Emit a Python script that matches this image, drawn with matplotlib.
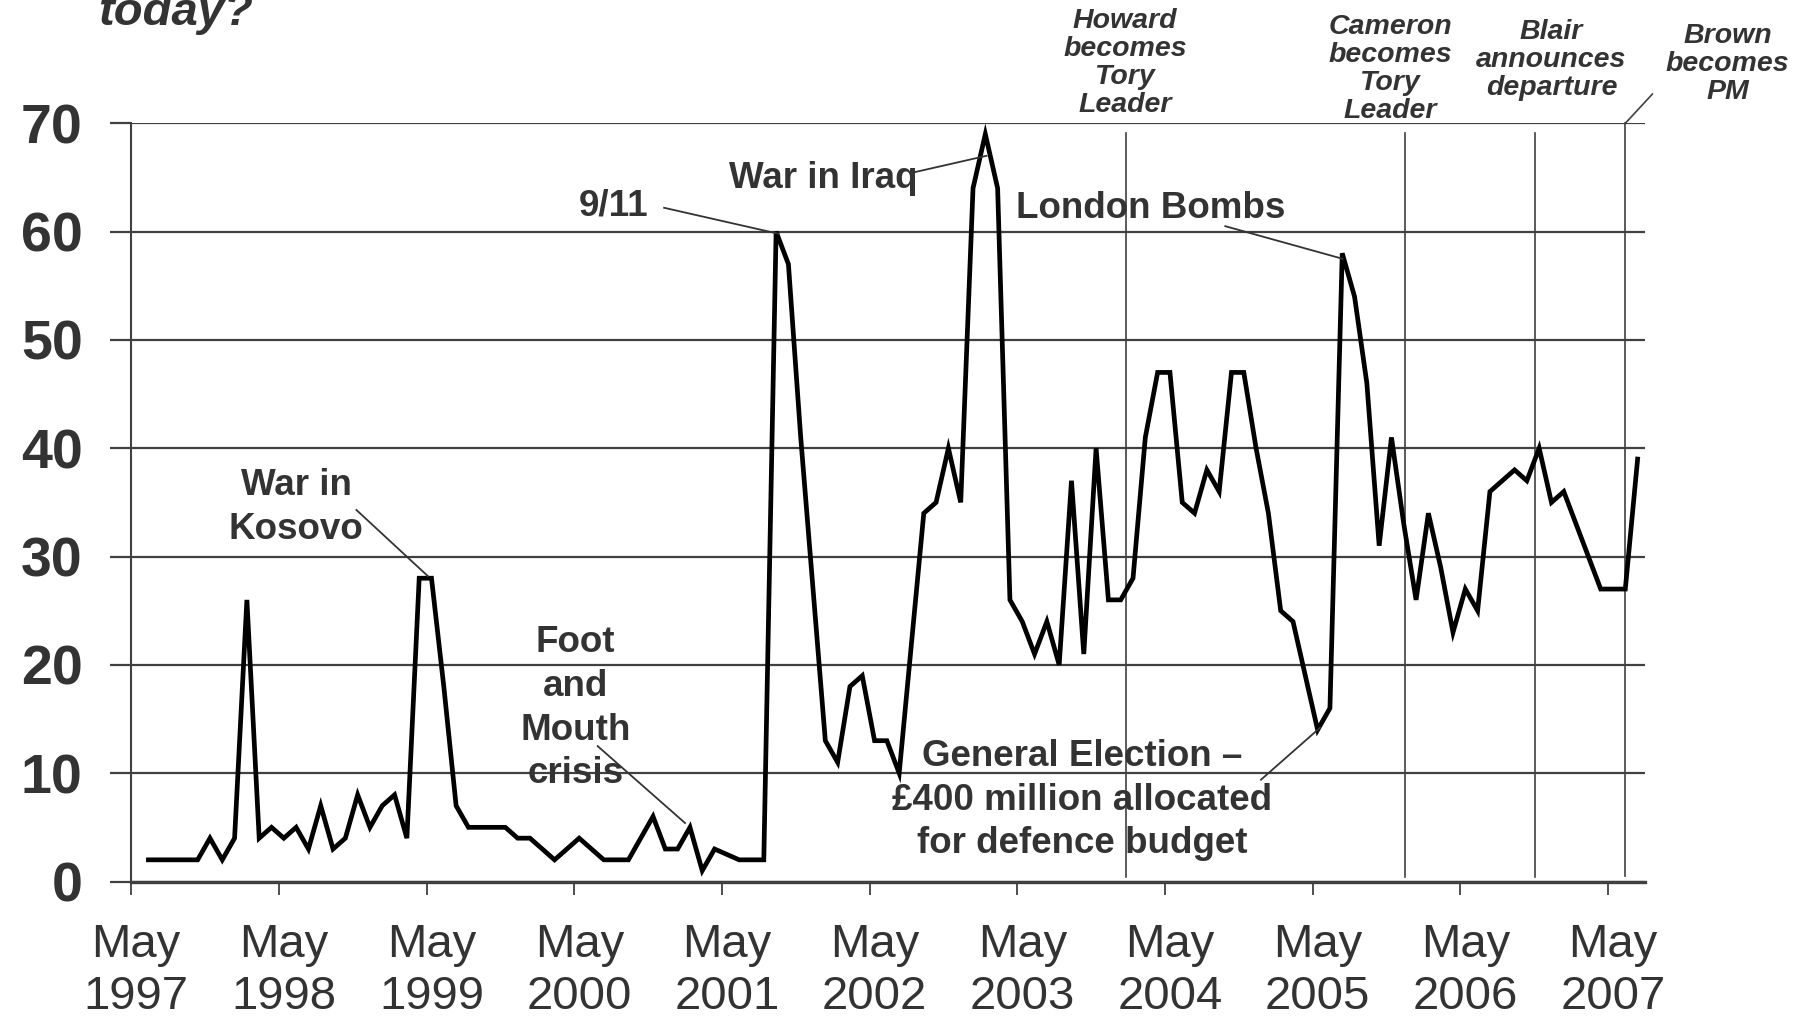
import numpy as np
import matplotlib
matplotlib.use('Agg')
import matplotlib.pyplot as plt
from matplotlib import font_manager
from matplotlib.transforms import ScaledTranslation

# ---------------- data ----------------
# monthly values, first point = June 1997
values = [2, 2, 2, 2, 2, 4, 2, 4, 26, 4,
          5, 4, 5, 3, 7, 3, 4, 8, 5, 7,
          8, 4, 28, 28, 18, 7, 5, 5, 5, 5,
          4, 4, 3, 2, 3, 4, 3, 2, 2, 2,
          4, 6, 3, 3, 5, 1, 3, 2.5, 2, 2,
          2, 60, 57, 41, 27, 13, 11, 18, 19, 13,
          13, 10, 22, 34, 35, 40, 35, 64, 69, 64,
          26, 24, 21, 24, 20, 37, 21, 40, 26, 26,
          28, 41, 47, 47, 35, 34, 38, 36, 47, 47,
          40, 34, 25, 24, 19, 14, 16, 58, 54, 46,
          31, 41, 33, 26, 34, 29, 23, 27, 25, 36,
          37, 38, 37, 40, 35, 36, 33, 30, 27, 27,
          27, 39]
first_month = 1.4            # months after May 1997 of first point
tick_months = list(range(0, 121, 12))
tick_labels = ["May\n%d" % y for y in range(1997, 2008)]
y_ticks = [0, 10, 20, 30, 40, 50, 60, 70]

# political events (months after May 1997)
event_months = [80.8, 103.5, 114.1, 121.4]
event_labels = ["Howard\nbecomes\nTory\nLeader",
                "Cameron\nbecomes\nTory\nLeader",
                "Blair\nannounces\ndeparture",
                "Brown\nbecomes\nPM"]
event_label_pos = [(80.75, 75.6), (102.3, 75.05), (115.4, 75.8), (129.7, 75.5)]

# callouts: text, text position, leader start, leader end
callouts = [
    ("War in\nKosovo", (13.4, 34.5), (18.3, 34.3), (24.1, 28.2)),
    ("Foot\nand\nMouth\ncrisis", (36.1, 16.0), (37.9, 12.5), (45.0, 5.4)),
    ("9/11", (39.2, 62.4), (43.3, 62.2), (52.6, 59.8)),
    ("War in Iraq", (56.2, 64.9), (63.7, 65.5), (69.5, 67.0)),
    ("London Bombs", (82.8, 62.1), (88.9, 60.5), (98.4, 57.5)),
    ("General Election \u2013\n\u00a3400 million allocated\nfor defence budget",
     (77.3, 7.5), (91.8, 9.4), (96.6, 14.2)),
]

# ---------------- style ----------------
names = {f.name for f in font_manager.fontManager.ttflist}
narrow = 'Liberation Sans Narrow' if 'Liberation Sans Narrow' in names else 'Liberation Sans'
plt.rcParams['font.family'] = ['Liberation Sans', 'DejaVu Sans']
TXT = '#333333'
GRID = '#404040'

W, H = 1804, 1018
fig = plt.figure(figsize=(W / 100, H / 100), dpi=100)
ax = fig.add_axes([131.2 / W, 136.5 / H, (1645 - 131.2) / W, (894.7 - 136.5) / H])

x = np.arange(len(values)) + first_month
ax.plot(x, values, color='black', lw=3.4, solid_joinstyle='miter', zorder=5, clip_on=False)

ax.set_xlim(0, 123)
ax.set_ylim(0, 70)
ax.set_yticks(y_ticks)
ax.set_yticklabels([str(v) for v in y_ticks])
ax.set_xticks(tick_months)
ax.set_xticklabels(tick_labels)

ax.yaxis.grid(True, color=GRID, lw=1.6)
ax.set_axisbelow(True)
for s in ['top', 'right']:
    ax.spines[s].set_visible(False)
ax.spines['left'].set_color(GRID)
ax.spines['left'].set_linewidth(1.5)
ax.spines['bottom'].set_color(GRID)
ax.spines['bottom'].set_linewidth(2.4)

ax.tick_params(axis='y', direction='out', length=15, width=1.6, color=GRID, pad=20)
ax.tick_params(axis='x', direction='out', length=9, width=1.3, color=GRID, pad=21)
for lab in ax.get_yticklabels():
    lab.set_fontsize(40)
    lab.set_fontweight('bold')
    lab.set_color(TXT)
shift = ScaledTranslation(5 / 100, 0, fig.dpi_scale_trans)
for lab in ax.get_xticklabels():
    lab.set_fontsize(34)
    lab.set_family(narrow)
    lab.set_color(TXT)
    lab.set_linespacing(1.22)
    lab.set_transform(lab.get_transform() + shift)

# event lines
for m in event_months[:-1]:
    ax.plot([m, m], [0.4, 69.1], color=GRID, lw=1.2, zorder=2)
ax.plot([event_months[-1]] * 2, [0.5, 70], color=GRID, lw=1.2, zorder=2, clip_on=False)
ax.plot([event_months[-1], 123.6], [70, 72.7], color=GRID, lw=1.2, clip_on=False)
for lab, (lx, ly) in zip(event_labels, event_label_pos):
    ax.text(lx, ly, lab, ha='center', va='center', fontsize=20.5, fontweight='bold',
            fontstyle='italic', color=TXT, linespacing=1.1, clip_on=False)

# callouts
for txt, (tx, ty), (sx, sy), (ex, ey) in callouts:
    ax.text(tx, ty, txt, ha='center', va='center', fontsize=26.5, fontweight='bold',
            color=TXT, linespacing=1.32, zorder=6)
    ax.plot([sx, ex], [sy, ey], color=TXT, lw=1.3, zorder=6, clip_on=False)

fig.text(97.8 / W, 1 - 25.3 / H, "today?", fontsize=34, fontweight='bold',
         fontstyle='italic', color=TXT, ha='left', va='baseline')

fig.savefig('out.png', dpi=100)
